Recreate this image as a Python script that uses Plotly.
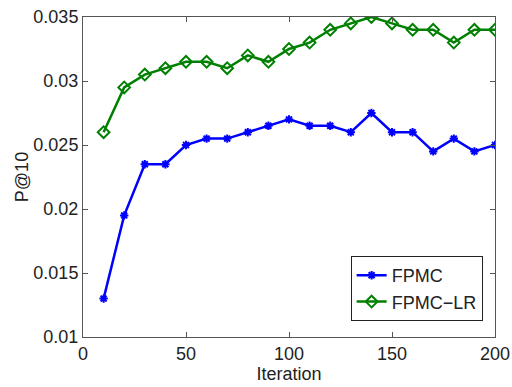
import plotly.graph_objects as go

iterations = [10, 20, 30, 40, 50, 60, 70, 80, 90, 100,
              110, 120, 130, 140, 150, 160, 170, 180, 190, 200]
fpmc = [0.013, 0.0195, 0.0235, 0.0235, 0.025, 0.0255, 0.0255, 0.026, 0.0265, 0.027,
        0.0265, 0.0265, 0.026, 0.0275, 0.026, 0.026, 0.0245, 0.0255, 0.0245, 0.025]
fpmc_lr = [0.026, 0.0295, 0.0305, 0.031, 0.0315, 0.0315, 0.031, 0.032, 0.0315, 0.0325,
           0.033, 0.034, 0.0345, 0.035, 0.0345, 0.034, 0.034, 0.033, 0.034, 0.034]

x_ticks = [0, 50, 100, 150, 200]
y_ticks = [0.01, 0.015, 0.02, 0.025, 0.03, 0.035]
y_tick_text = ["0.01", "0.015", "0.02", "0.025", "0.03", "0.035"]

FONT = "Arial, Liberation Sans"
TEXT_COLOR = "#222222"

fig = go.Figure()
fig.add_trace(go.Scatter(
    x=iterations, y=fpmc, name="FPMC", mode="lines+markers",
    line=dict(color="#0000ff", width=2.5),
    marker=dict(symbol="asterisk-open", size=7, color="#0000ff",
                line=dict(color="#0000ff", width=2)),
))
fig.add_trace(go.Scatter(
    x=iterations, y=fpmc_lr, name="FPMC\u2212LR", mode="lines+markers",
    line=dict(color="#008000", width=2.5),
    marker=dict(symbol="diamond-open", size=9, color="#008000",
                line=dict(color="#008000", width=2)),
))

axis_common = dict(
    showline=True, linecolor="#555555", linewidth=1, mirror="ticks",
    ticks="inside", ticklen=5, tickcolor="#555555",
    showgrid=False, zeroline=False, automargin=False,
    tickfont=dict(family=FONT, size=18, color=TEXT_COLOR),
)

fig.update_layout(
    width=512, height=387,
    margin=dict(l=83, r=17, t=17, b=50),
    paper_bgcolor="white", plot_bgcolor="white",
    xaxis=dict(range=[0, 200], tickvals=x_ticks,
               title=dict(text="Iteration", standoff=2,
                          font=dict(family=FONT, size=18, color=TEXT_COLOR)),
               **axis_common),
    yaxis=dict(range=[0.01, 0.035], tickvals=y_ticks, ticktext=y_tick_text,
               title=dict(text="P@10", standoff=0,
                          font=dict(family=FONT, size=18, color=TEXT_COLOR)),
               **axis_common),
    legend=dict(x=0.97, y=0.05, xanchor="right", yanchor="bottom",
                bgcolor="white", bordercolor="#222222", borderwidth=1,
                font=dict(family=FONT, size=18, color=TEXT_COLOR),
                tracegroupgap=0, itemwidth=30),
    showlegend=True,
)

fig.write_html("out.html")
